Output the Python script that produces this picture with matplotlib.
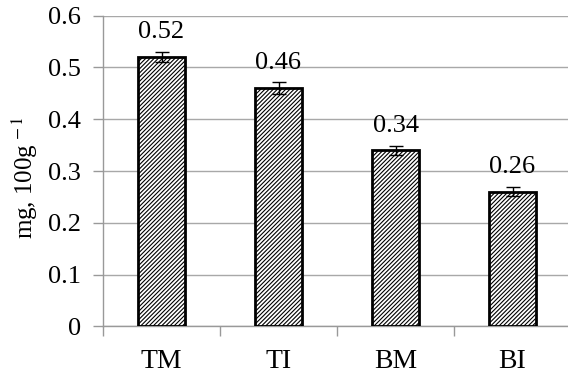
import matplotlib
matplotlib.use("Agg")
import matplotlib.pyplot as plt

categories = ["TM", "TI", "BM", "BI"]
values = [0.52, 0.46, 0.34, 0.26]
errors = [0.01, 0.011, 0.009, 0.009]
labels = ["0.52", "0.46", "0.34", "0.26"]
yticks = [0, 0.1, 0.2, 0.3, 0.4, 0.5, 0.6]

plt.rcParams['font.family'] = ['Liberation Serif', 'DejaVu Serif']
plt.rcParams['mathtext.fontset'] = 'stix'
plt.rcParams['hatch.linewidth'] = 0.8

fig = plt.figure(figsize=(5.68, 3.74), dpi=100)
ax = fig.add_axes([103/568, (374-326.3)/374, 468/568, 310.6/374])

x = list(range(len(categories)))
ax.bar(x, values, width=0.4, color='white', edgecolor='black', linewidth=2,
       hatch='////////', zorder=3)
ax.errorbar(x, values, yerr=errors, fmt='none', ecolor='black', elinewidth=1,
            capsize=5, capthick=1, zorder=4)
for xi, v, e, lab in zip(x, values, errors, labels):
    ax.text(xi, v + e + 0.017, lab, ha='center', va='bottom', fontsize=19)

ax.set_xlim(-0.5, 3.5)
ax.set_ylim(0, 0.6)
ax.set_yticks(yticks)
ax.set_yticklabels(["0", "0.1", "0.2", "0.3", "0.4", "0.5", "0.6"])
ax.set_xticks(x)
ax.set_xticklabels(categories)
ax.set_xticks([-0.5, 0.5, 1.5, 2.5, 3.5], minor=True)
ax.tick_params(axis='x', which='major', length=0, pad=16, labelsize=20)
ax.tick_params(axis='x', which='minor', length=7, color='#999999', width=1)
ax.tick_params(axis='y', length=7, color='#999999', width=1, labelsize=19, pad=9)
ax.grid(axis='y', color='#a8a8a8', linewidth=1, zorder=0)
ax.set_axisbelow(True)
for s in ['top', 'right']:
    ax.spines[s].set_visible(False)
for s in ['left', 'bottom']:
    ax.spines[s].set_color('#999999')
    ax.spines[s].set_linewidth(1)
ax.set_ylabel(r'mg, 100g$^{\,-1}$', fontsize=18)
ax.yaxis.set_label_coords(-(103 - 40) / 468, 0.48)

fig.savefig('out.png', dpi=100)
